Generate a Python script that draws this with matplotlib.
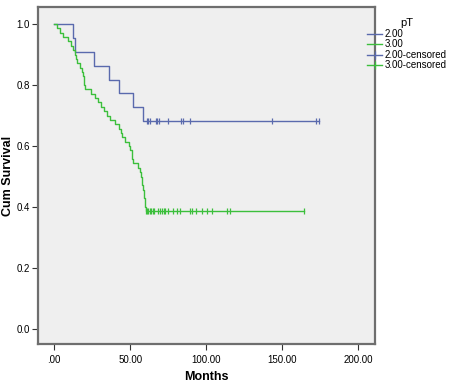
import numpy as np
import matplotlib.pyplot as plt

plt.rcParams['font.family'] = ['Liberation Sans', 'DejaVu Sans']

# Kaplan-Meier estimates (months, cum survival after event)
t_pt2 = [0, 12.3, 13.8, 26.5, 36.4, 43.0, 51.8, 58.3]
s_pt2 = [1.0, 0.955, 0.909, 0.864, 0.818, 0.773, 0.727, 0.682]
cens_pt2 = [61, 62, 63.2, 66.9, 68, 69, 74.6, 83.3, 85, 89.5, 143.2, 172.4, 174.1]

t_pt3 = [0, 2, 4, 6, 9, 11, 12.5, 13.5, 14.5, 15, 17, 18.5, 19, 19.5, 20, 20.5,
         24, 27, 29, 31, 33, 35, 37, 40, 43, 44, 44.5, 46.5, 49, 50, 51, 51.5,
         52, 55.5, 56.5, 57, 57.5, 58, 58.5, 59, 59.3, 59.6, 60, 60.5]
s_pt3 = [1.0, 0.986, 0.971, 0.957, 0.943, 0.929, 0.914, 0.900, 0.886, 0.871,
         0.857, 0.843, 0.829, 0.814, 0.800, 0.786, 0.771, 0.757, 0.743, 0.729,
         0.714, 0.700, 0.686, 0.671, 0.657, 0.643, 0.629, 0.614, 0.600, 0.586,
         0.571, 0.557, 0.543, 0.529, 0.514, 0.500, 0.486, 0.471, 0.457, 0.443,
         0.429, 0.414, 0.400, 0.388]
cens_pt3 = [60.5, 61, 62, 63, 64, 65, 66, 68.5, 69.5, 71, 72, 73, 75, 78.5, 81,
            83, 89.5, 90.5, 93, 97, 100.5, 104, 113.5, 115.5, 164]

xticks = [0, 50, 100, 150, 200]
xtick_labels = [".00", "50.00", "100.00", "150.00", "200.00"]
yticks = [0.0, 0.2, 0.4, 0.6, 0.8, 1.0]
ytick_labels = ["0.0", "0.2", "0.4", "0.6", "0.8", "1.0"]

blue = '#5a6aad'
green = '#3cbf3c'


def km_line(times, surv, last_cens):
    # extend the curve to the last censored time
    x = list(times) + [max(last_cens)]
    y = list(surv) + [surv[-1]]
    return x, y


def surv_at(times, surv, c):
    idx = np.searchsorted(times, c, side='right') - 1
    return np.array(surv)[idx]


fig = plt.figure(figsize=(4.59, 3.90), dpi=100)
ax = fig.add_axes([0.083, 0.118, 0.734, 0.864])
ax.set_facecolor('#efefef')

x2, y2 = km_line(t_pt2, s_pt2, cens_pt2)
x3, y3 = km_line(t_pt3, s_pt3, cens_pt3)
l2, = ax.step(x2, y2, where='post', color=blue, lw=1.0, label='2.00')
l3, = ax.step(x3, y3, where='post', color=green, lw=1.0, label='3.00')
c2, = ax.plot(cens_pt2, surv_at(t_pt2, s_pt2, cens_pt2), ls='none', marker='|',
              ms=5, mew=0.9, color=blue, label='2.00-censored')
c3, = ax.plot(cens_pt3, surv_at(t_pt3, s_pt3, cens_pt3), ls='none', marker='|',
              ms=5, mew=0.9, color=green, label='3.00-censored')

ax.set_xlim(-10.5, 211)
ax.set_ylim(-0.049, 1.056)
ax.set_xticks(xticks)
ax.set_xticklabels(xtick_labels, fontsize=7)
ax.set_yticks(yticks)
ax.set_yticklabels(ytick_labels, fontsize=7)
ax.tick_params(direction='out', length=4, width=0.8, color='#333333', pad=2)
ax.tick_params(axis='x', pad=4)

for sp in ax.spines.values():
    sp.set_color('#6e6e6e')
    sp.set_linewidth(1.6)

ax.set_xlabel('Months', fontsize=9, fontweight='bold', labelpad=4)
ax.set_ylabel('Cum Survival', fontsize=9, fontweight='bold')
ax.yaxis.set_label_coords(-0.072, 0.5)

# legend handles: censored entries shown as line + tick
h_c2 = plt.Line2D([], [], color=blue, lw=1.0, marker='|', ms=6, mew=0.9)
h_c3 = plt.Line2D([], [], color=green, lw=1.0, marker='|', ms=6, mew=0.9)
leg = fig.legend([l2, l3, h_c2, h_c3],
                 ['2.00', '3.00', '2.00-censored', '3.00-censored'],
                 title='pT', loc='upper left', bbox_to_anchor=(0.78, 0.975),
                 frameon=False, fontsize=7, title_fontsize=8,
                 handlelength=1.6, handletextpad=0.2, labelspacing=0.05)

fig.savefig('out.png', dpi=100)
